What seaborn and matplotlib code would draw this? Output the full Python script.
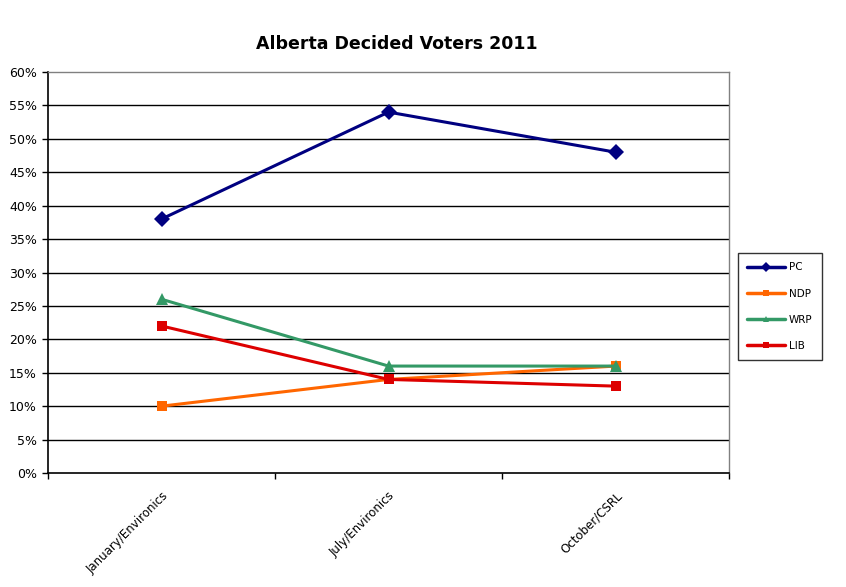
import matplotlib
matplotlib.use("Agg")
import matplotlib.pyplot as plt
import seaborn as sns
import pandas as pd
from matplotlib.ticker import FixedLocator
from matplotlib.lines import Line2D

categories = ["January/Environics", "July/Environics", "October/CSRL"]
pc = [38, 54, 48]
ndp = [10, 14, 16]
wrp = [26, 16, 16]
lib = [22, 14, 13]
series_names = ["PC", "NDP", "WRP", "LIB"]
y_ticks = list(range(0, 61, 5))

sns.set_theme(style="white")
plt.rcParams['font.family'] = ['DejaVu Sans']
plt.rcParams['text.color'] = 'black'
plt.rcParams['xtick.color'] = 'black'
plt.rcParams['ytick.color'] = 'black'

rows = []
for name, vals in zip(series_names, [pc, ndp, wrp, lib]):
    for i, v in enumerate(vals):
        rows.append({"x": i, "cat": categories[i], "party": name, "value": v})
df = pd.DataFrame(rows)

palette = {"PC": "#000080", "NDP": "#FF6600", "WRP": "#339966", "LIB": "#DD0000"}
markers = {"PC": "D", "NDP": "s", "WRP": "^", "LIB": "s"}
msizes = {"PC": 8, "NDP": 7, "WRP": 8, "LIB": 7}

fig = plt.figure(figsize=(8.46, 5.87), dpi=100)
ax = fig.add_axes([48/846, 1-473/587, (729-48)/846, (473-72)/587])

for name in series_names:
    sub = df[df.party == name]
    sns.lineplot(data=sub, x="x", y="value", ax=ax, color=palette[name],
                 marker=markers[name], markersize=msizes[name], markeredgewidth=0,
                 linewidth=2.2, label=name, legend=False)

ax.set_xlim(-0.5, 2.5)
ax.set_ylim(0, 60)
ax.set_yticks(y_ticks)
ax.set_yticklabels([f"{t}%" for t in y_ticks], fontsize=9, color="black")
for t in y_ticks[1:-1]:
    ax.axhline(t, color="black", linewidth=1, zorder=0)
ax.set_xticks(range(len(categories)))
ax.set_xticklabels(categories, rotation=45, ha="right", rotation_mode="anchor",
                   fontsize=8.5, color="black")
ax.xaxis.set_minor_locator(FixedLocator([-0.5, 0.5, 1.5, 2.5]))
ax.tick_params(axis="x", which="major", length=0, pad=12)
ax.tick_params(axis="x", which="minor", length=4, color="black", width=1, bottom=True)
ax.tick_params(axis="y", length=4, color="black", width=1, left=True, pad=4)
ax.set_xlabel("")
ax.set_ylabel("")
for s in ["left", "bottom"]:
    ax.spines[s].set_color("black")
    ax.spines[s].set_linewidth(1.2)
for s in ["top", "right"]:
    ax.spines[s].set_color("#808080")
    ax.spines[s].set_linewidth(1)

fig.suptitle("Alberta Decided Voters 2011", x=397/846, y=1-44/587, va="center",
             fontsize=12.5, fontweight="bold", color="black")

hs = [Line2D([0], [0], color=palette[n], marker=markers[n], markersize=5,
             markeredgewidth=0, linewidth=2.5) for n in series_names]
leg = fig.legend(hs, series_names, loc="upper left", bbox_to_anchor=(738/846, 1-253/587),
                 fontsize=7.5, frameon=True, fancybox=False, edgecolor="black",
                 labelspacing=1.55, handlelength=3.6, borderpad=0.9, borderaxespad=0,
                 handletextpad=0.4)
leg.get_frame().set_linewidth(1)
for t in leg.get_texts():
    t.set_color("black")

fig.savefig("out.png", dpi=100, facecolor="white")
